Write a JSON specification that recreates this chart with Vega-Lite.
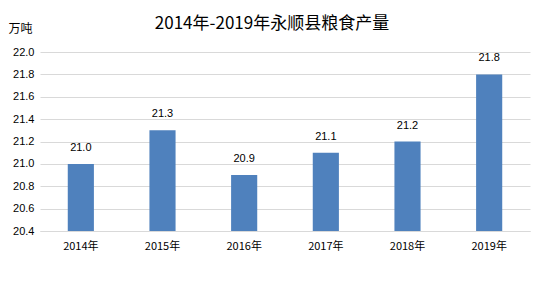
{
  "$schema": "https://vega.github.io/schema/vega-lite/v6.json",
  "width": 490,
  "height": 179,
  "autosize": "none",
  "padding": {"left": 40, "top": 52, "right": 16, "bottom": 61},
  "background": "white",
  "title": {
    "text": "2014年-2019年永顺县粮食产量",
    "font": "Noto Sans CJK SC",
    "fontSize": 17,
    "fontWeight": "normal",
    "color": "#000000",
    "anchor": "middle",
    "dx": -13,
    "offset": -11
  },
  "data": {
    "values": [
      {"year": "2014年", "value": 21.0},
      {"year": "2015年", "value": 21.3},
      {"year": "2016年", "value": 20.9},
      {"year": "2017年", "value": 21.1},
      {"year": "2018年", "value": 21.2},
      {"year": "2019年", "value": 21.8}
    ]
  },
  "config": {
    "view": {"stroke": null},
    "font": "Noto Sans CJK SC"
  },
  "encoding": {
    "x": {
      "field": "year",
      "type": "nominal",
      "sort": null,
      "scale": {"paddingInner": 0.68, "paddingOuter": 0.34},
      "axis": {
        "title": null,
        "labelAngle": 0,
        "ticks": false,
        "domainColor": "#d9d9d9",
        "labelFontSize": 11,
        "labelColor": "#000000",
        "labelPadding": 9,
        "labelFont": "Noto Sans CJK SC"
      }
    },
    "y": {
      "field": "value",
      "type": "quantitative",
      "scale": {"domain": [20.4, 22.0], "zero": false, "nice": false},
      "axis": {
        "title": "万吨",
        "titleAngle": 0,
        "titleAlign": "left",
        "titleBaseline": "middle",
        "titleX": -32,
        "titleY": -24,
        "titleFontSize": 12,
        "titleFontWeight": "normal",
        "titleColor": "#000000",
        "values": [20.4, 20.6, 20.8, 21.0, 21.2, 21.4, 21.6, 21.8, 22.0],
        "format": ".1f",
        "domain": false,
        "ticks": false,
        "gridColor": "#d9d9d9",
        "labelFontSize": 11,
        "labelColor": "#000000",
        "labelPadding": 6,
        "labelFont": "Liberation Sans"
      }
    }
  },
  "layer": [
    {
      "mark": {"type": "bar", "color": "#4f81bd"},
      "encoding": {"y2": {"datum": 20.4}}
    },
    {
      "mark": {"type": "text", "dy": -11, "fontSize": 11, "color": "#000000", "baseline": "bottom", "font": "Liberation Sans"},
      "encoding": {"text": {"field": "value", "type": "quantitative", "format": ".1f"}}
    }
  ]
}
